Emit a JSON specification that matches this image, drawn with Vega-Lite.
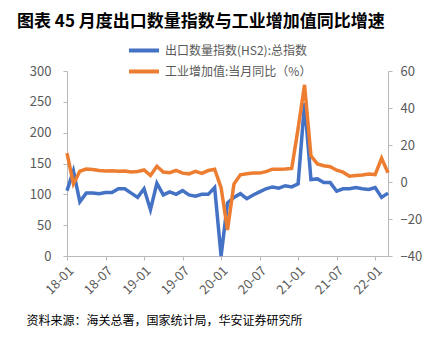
{
  "$schema": "https://vega.github.io/schema/vega-lite/v6.json",
  "autosize": "none",
  "width": 321,
  "height": 185,
  "padding": {"left": 67, "top": 71, "right": 38, "bottom": 95},
  "background": "white",
  "config": {
    "view": {"stroke": null},
    "font": "Noto Sans CJK SC",
    "axis": {"grid": false, "domainColor": "#b8b8b8", "tickColor": "#b8b8b8", "labelColor": "#595959", "labelFont": "Noto Sans CJK SC", "tickSize": 4}
  },
  "title": {
    "text": "图表 45 月度出口数量指数与工业增加值同比增速",
    "anchor": "start",
    "frame": "group",
    "dx": -50,
    "offset": 11,
    "fontSize": 17,
    "fontWeight": "bold",
    "color": "#000000",
    "font": "Noto Sans CJK SC"
  },
  "data": {
    "values": [
      {"m": "18-01", "exp": 106, "iva": 15.6},
      {"m": "18-02", "exp": 138, "iva": -1},
      {"m": "18-03", "exp": 88, "iva": 5.8},
      {"m": "18-04", "exp": 102, "iva": 7},
      {"m": "18-05", "exp": 102, "iva": 6.8},
      {"m": "18-06", "exp": 101, "iva": 6.2},
      {"m": "18-07", "exp": 103, "iva": 6},
      {"m": "18-08", "exp": 103, "iva": 6.1},
      {"m": "18-09", "exp": 109, "iva": 5.8},
      {"m": "18-10", "exp": 109, "iva": 5.9},
      {"m": "18-11", "exp": 102, "iva": 5.4},
      {"m": "18-12", "exp": 95, "iva": 5.7},
      {"m": "19-01", "exp": 109, "iva": 6.5},
      {"m": "19-02", "exp": 75, "iva": 3.5},
      {"m": "19-03", "exp": 118, "iva": 8.5},
      {"m": "19-04", "exp": 99, "iva": 5.4},
      {"m": "19-05", "exp": 104, "iva": 5},
      {"m": "19-06", "exp": 100, "iva": 6.3},
      {"m": "19-07", "exp": 106, "iva": 4.8},
      {"m": "19-08", "exp": 99, "iva": 4.4},
      {"m": "19-09", "exp": 97, "iva": 5.8},
      {"m": "19-10", "exp": 100, "iva": 4.7},
      {"m": "19-11", "exp": 100, "iva": 6.2},
      {"m": "19-12", "exp": 111, "iva": 6.9},
      {"m": "20-01", "exp": 0, "iva": -3},
      {"m": "20-02", "exp": 86, "iva": -26},
      {"m": "20-03", "exp": 95, "iva": -1.1},
      {"m": "20-04", "exp": 101, "iva": 3.9},
      {"m": "20-05", "exp": 93, "iva": 4.4},
      {"m": "20-06", "exp": 99, "iva": 4.8},
      {"m": "20-07", "exp": 104, "iva": 4.8},
      {"m": "20-08", "exp": 109, "iva": 5.6},
      {"m": "20-09", "exp": 112, "iva": 6.9},
      {"m": "20-10", "exp": 110, "iva": 6.9},
      {"m": "20-11", "exp": 114, "iva": 7.0},
      {"m": "20-12", "exp": 112, "iva": 7.3},
      {"m": "21-01", "exp": 117, "iva": 29},
      {"m": "21-02", "exp": 248, "iva": 52.5},
      {"m": "21-03", "exp": 124, "iva": 14.1},
      {"m": "21-04", "exp": 125, "iva": 9.8},
      {"m": "21-05", "exp": 119, "iva": 8.8},
      {"m": "21-06", "exp": 119, "iva": 8.3},
      {"m": "21-07", "exp": 105, "iva": 6.4},
      {"m": "21-08", "exp": 109, "iva": 5.3},
      {"m": "21-09", "exp": 109, "iva": 3.1},
      {"m": "21-10", "exp": 111, "iva": 3.5},
      {"m": "21-11", "exp": 109, "iva": 3.8},
      {"m": "21-12", "exp": 108, "iva": 4.3},
      {"m": "22-01", "exp": 111, "iva": 4},
      {"m": "22-02", "exp": 95, "iva": 12.8},
      {"m": "22-03", "exp": 102, "iva": 5}
    ]
  },
  "encoding": {
    "x": {
      "field": "m",
      "type": "ordinal",
      "sort": null,
      "scale": {"type": "point", "padding": 0},
      "axis": {
        "values": ["18-01", "18-07", "19-01", "19-07", "20-01", "20-07", "21-01", "21-07", "22-01"],
        "labelAngle": -45,
        "labelFontSize": 13,
        "labelPadding": 4,
        "title": "资料来源：海关总署，国家统计局，华安证券研究所",
        "titleFontSize": 12,
        "titleFontWeight": "normal",
        "titleColor": "#000000",
        "titleAnchor": "start",
        "titleAlign": "left",
        "titleBaseline": "middle",
        "titleX": -41,
        "titleY": 64
      }
    }
  },
  "layer": [
    {
      "mark": {"type": "line", "strokeWidth": 3.5, "strokeJoin": "miter"},
      "encoding": {
        "y": {
          "field": "exp",
          "type": "quantitative",
          "scale": {"domain": [0, 300], "nice": false},
          "axis": {"orient": "left", "values": [0, 50, 100, 150, 200, 250, 300], "title": null, "labelFontSize": 13, "labelPadding": 12}
        },
        "color": {"datum": "出口数量指数(HS2):总指数"}
      }
    },
    {
      "mark": {"type": "line", "strokeWidth": 3.5, "strokeJoin": "miter"},
      "encoding": {
        "y": {
          "field": "iva",
          "type": "quantitative",
          "scale": {"domain": [-40, 60], "nice": false},
          "axis": {"orient": "right", "values": [-40, -20, 0, 20, 40, 60], "title": null, "labelFontSize": 13, "labelPadding": 8}
        },
        "color": {
          "datum": "工业增加值:当月同比（%）",
          "scale": {"domain": ["出口数量指数(HS2):总指数", "工业增加值:当月同比（%）"], "range": ["#4472C4", "#ED7D31"]},
          "legend": {
            "orient": "none",
            "legendX": 60,
            "legendY": -29,
            "direction": "vertical",
            "title": null,
            "symbolType": "stroke",
            "symbolSize": 900,
            "symbolStrokeWidth": 4,
            "labelFontSize": 12,
            "labelColor": "#595959",
            "labelOffset": 4,
            "clipHeight": 17,
            "rowPadding": 4
          }
        }
      }
    }
  ],
  "resolve": {"scale": {"y": "independent"}}
}
